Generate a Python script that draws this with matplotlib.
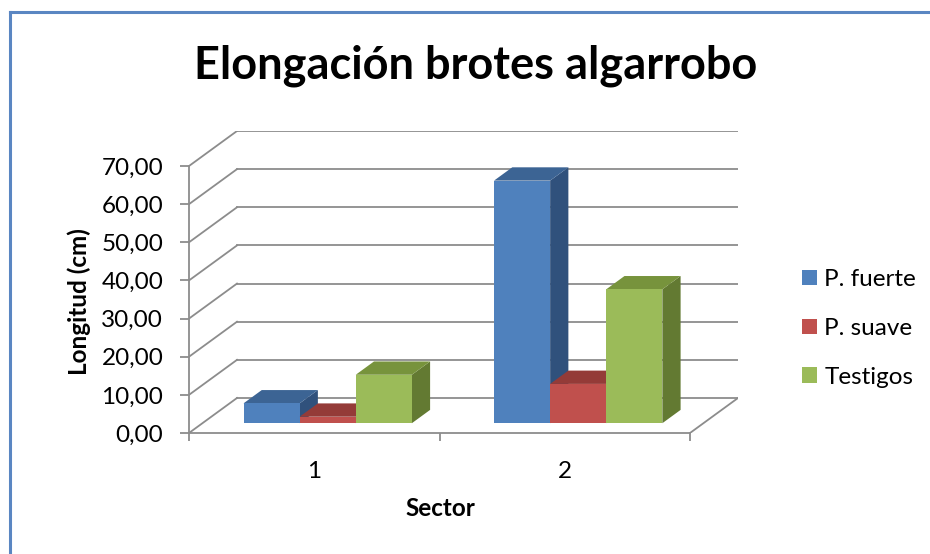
import matplotlib.pyplot as plt
from matplotlib.patches import Polygon, Patch
from matplotlib.lines import Line2D

plt.rcParams["font.family"] = ["Lato", "DejaVu Sans"]

SECTORS = ["1", "2"]
SERIES = ["P. fuerte", "P. suave", "Testigos"]
FUERTE = [5.2, 63.6]
SUAVE = [1.7, 10.3]
TESTIGOS = [12.7, 35.1]
Y_TICKS = [0, 10, 20, 30, 40, 50, 60, 70]

FRONT = ["#4F81BD", "#C0504D", "#9BBB59"]
TOP = ["#3C6494", "#943B38", "#77933C"]
SIDE = ["#30517C", "#7E2F2D", "#637A32"]
GRID = "#8C8C8C"

# oblique depth of the 3d box, in data units
DX = 0.1916
DY = 9.18
# bars sit between these depth fractions
F0, F1 = 0.28, 0.66
BAR_W = 0.224

fig = plt.figure(figsize=(9.3, 5.54), dpi=100)
W, H = 930, 554
ax = fig.add_axes([189 / W, (H - 433) / H, (738 - 189) / W, 302 / H])
ax.set_xlim(0.5, 2.5 + DX)
ax.set_ylim(0, Y_TICKS[-1] + DY)

# walls and floor
for v in Y_TICKS:
    ax.plot([0.5 + DX, 2.5 + DX], [v + DY, v + DY], color=GRID, lw=1.3, zorder=1)
    ax.plot([0.5, 0.5 + DX], [v, v + DY], color=GRID, lw=1.3, zorder=1)
ax.plot([2.5, 2.5 + DX], [0, DY], color=GRID, lw=1.3, zorder=1)

# bars
data = [FUERTE, SUAVE, TESTIGOS]
z = 2
for i in range(len(SECTORS)):
    center = i + 1 + F0 * DX
    for j, vals in enumerate(data):
        xl = center + (j - 1.5) * BAR_W
        xr = xl + BAR_W
        base = F0 * DY
        top = base + vals[i]
        ddx = (F1 - F0) * DX
        ddy = (F1 - F0) * DY
        side = [(xr, base), (xr, top), (xr + ddx, top + ddy), (xr + ddx, base + ddy)]
        roof = [(xl, top), (xr, top), (xr + ddx, top + ddy), (xl + ddx, top + ddy)]
        front = [(xl, base), (xr, base), (xr, top), (xl, top)]
        ax.add_patch(Polygon(side, closed=True, fc=SIDE[j], ec="none", zorder=z))
        ax.add_patch(Polygon(roof, closed=True, fc=TOP[j], ec="none", zorder=z))
        ax.add_patch(Polygon(front, closed=True, fc=FRONT[j], ec="none", zorder=z))
        z += 1

# axes
for s in ["top", "right"]:
    ax.spines[s].set_visible(False)
ax.spines["left"].set_bounds(0, Y_TICKS[-1])
ax.spines["bottom"].set_bounds(0.5, 2.5)
for s in ["left", "bottom"]:
    ax.spines[s].set_color(GRID)
    ax.spines[s].set_linewidth(1.3)
    ax.spines[s].set_zorder(20)
ax.set_yticks(Y_TICKS)
ax.set_yticklabels([f"{v:.2f}".replace(".", ",") for v in Y_TICKS])
ax.tick_params(axis="y", length=6.5, width=1.3, color=GRID, pad=12, labelsize=17.5)
ax.set_xticks([0.5, 1.5, 2.5])
ax.set_xticklabels([])
ax.tick_params(axis="x", which="major", length=6, width=1.3, color=GRID)
ax.set_xticks([1, 2], minor=True)
ax.set_xticklabels(SECTORS, minor=True)
ax.tick_params(axis="x", which="minor", length=0, pad=20, labelsize=17.5)
ax.patch.set_visible(False)

fig.text(79 / W, 1 - 302 / H, "Longitud (cm)", rotation=90, ha="center", va="center",
         fontsize=17.5, fontweight="bold")
fig.text(440 / W, 1 - 508 / H, "Sector", ha="center", va="center",
         fontsize=17.5, fontweight="bold")
fig.text(476 / W, 1 - 66 / H, "Elongación brotes algarrobo", ha="center", va="center",
         fontsize=32.5, fontweight="bold")

handles = [Patch(fc=c, ec="none") for c in FRONT]
fig.legend(handles, SERIES, loc="upper left", bbox_to_anchor=(802 / W, 1 - 269 / H),
           frameon=False, fontsize=17.5, handlelength=0.62, handleheight=0.62,
           handletextpad=0.3, labelspacing=1.15, borderaxespad=0, borderpad=0)

# chart border (cropped on the right and bottom)
fig.add_artist(Line2D([9.5 / W, 9.5 / W], [0, 1 - 12 / H], color="#5A86C2", lw=2.2))
fig.add_artist(Line2D([9.5 / W, 1], [1 - 12 / H, 1 - 12 / H], color="#5A86C2", lw=2.2))

fig.savefig("out.png", dpi=100)
